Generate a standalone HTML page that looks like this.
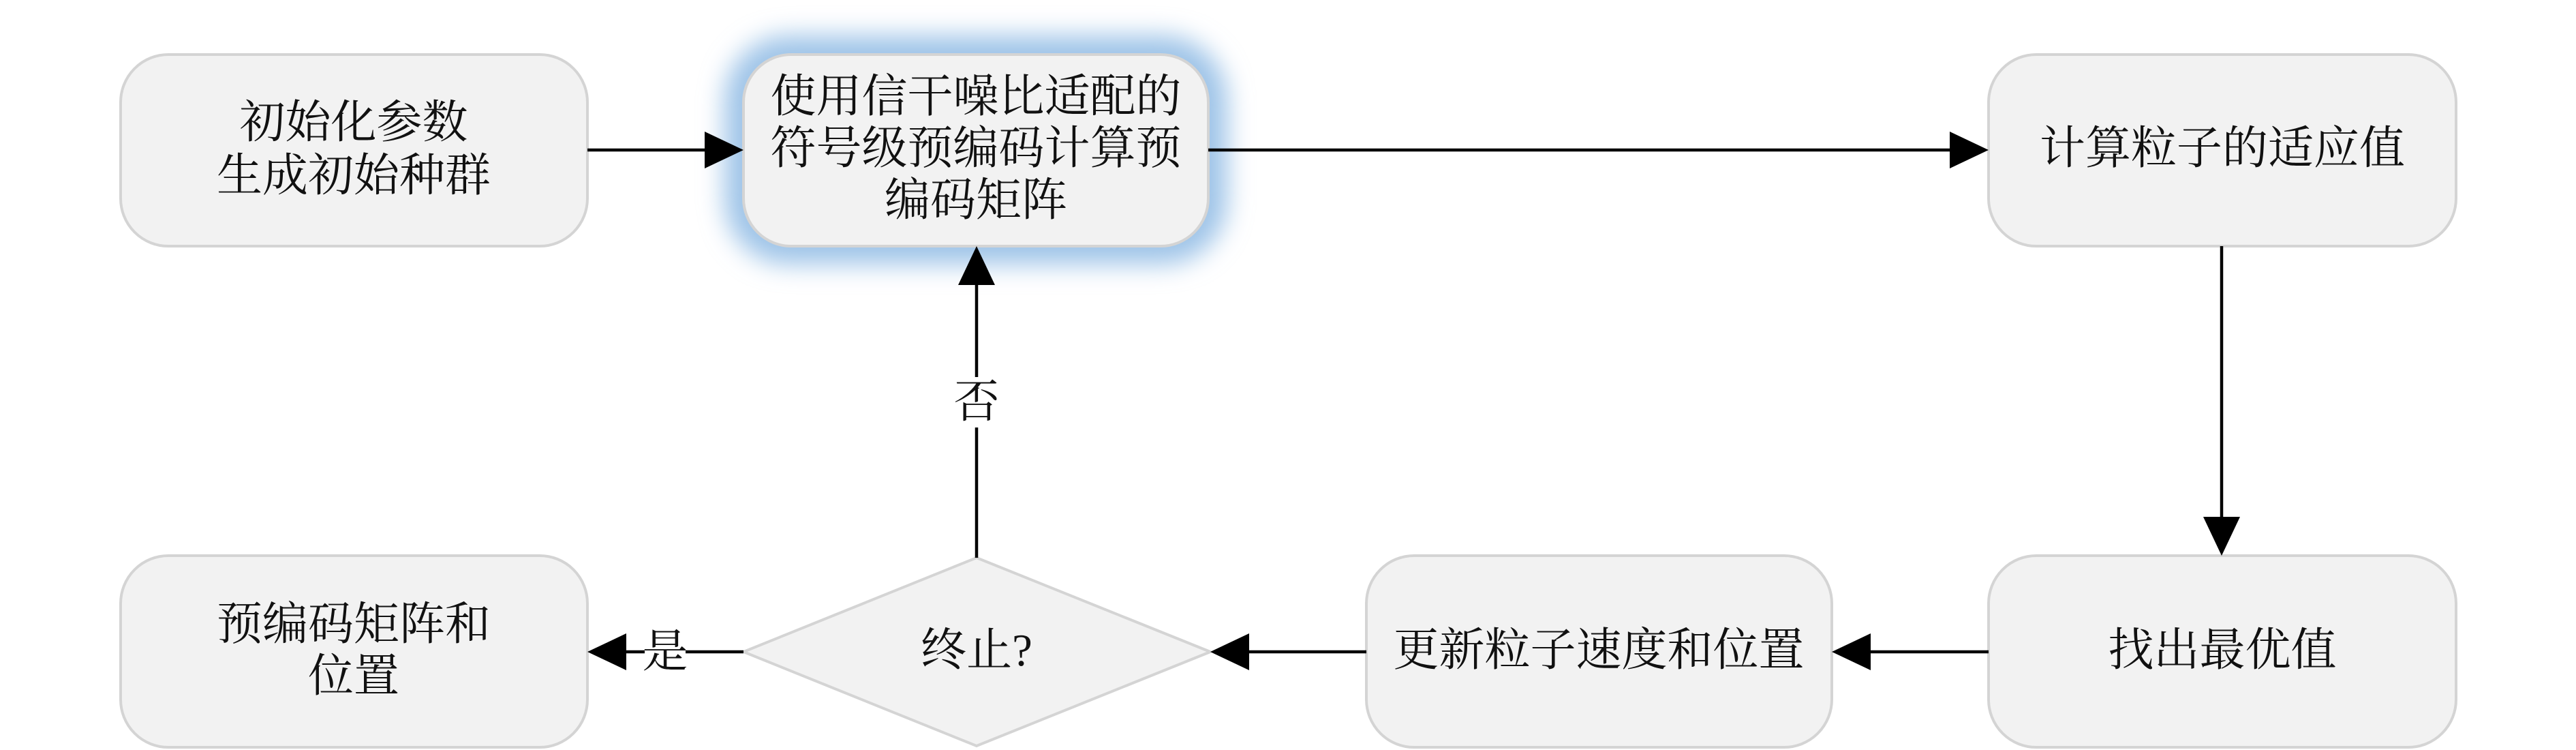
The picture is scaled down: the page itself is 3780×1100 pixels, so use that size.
<!DOCTYPE html>
<html><head><meta charset="utf-8"><style>
html,body{margin:0;padding:0;background:#fff;}
svg{display:block;}
text{font-family:"Liberation Serif","Noto Serif CJK SC",serif;font-size:67px;fill:#111;text-anchor:middle;dominant-baseline:central;}
</style></head><body>
<svg width="3780" height="1100" viewBox="0 0 3780 1100" xmlns="http://www.w3.org/2000/svg">
<defs>
<filter id="glow" x="-30%" y="-40%" width="160%" height="180%"><feGaussianBlur stdDeviation="18"/></filter>
</defs>
<g stroke="#d4d4d4" stroke-width="4" fill="#f2f2f2">
<rect x="1063" y="52" width="738" height="336" rx="95" fill="#9fc4e8" stroke="none" filter="url(#glow)"/>
<rect x="177" y="80" width="685" height="281" rx="70"/>
<rect x="1091" y="80" width="682" height="281" rx="70"/>
<rect x="2918" y="80" width="686" height="281" rx="70"/>
<rect x="2918" y="815" width="686" height="281" rx="70"/>
<rect x="2005" y="815" width="683" height="281" rx="70"/>
<rect x="177" y="815" width="685" height="281" rx="70"/>
<polygon points="1433,818 1776,956 1433,1094 1091,956"/>
</g>
<g stroke="#000" stroke-width="4.5" fill="none">
<line x1="862" y1="220" x2="1036" y2="220"/>
<line x1="1773" y1="220" x2="2862" y2="220"/>
<line x1="3260" y1="361" x2="3260" y2="760"/>
<line x1="2918" y1="956" x2="2744" y2="956"/>
<line x1="2005" y1="956" x2="1832" y2="956"/>
<line x1="1433" y1="818" x2="1433" y2="416"/>
<line x1="1091" y1="956" x2="917" y2="956"/>
</g>
<g fill="#000">
<polygon points="1091,220 1034,193 1034,247"/>
<polygon points="2918,220 2861,193 2861,247"/>
<polygon points="3260,815 3233,758 3287,758"/>
<polygon points="2688,956 2745,929 2745,983"/>
<polygon points="1776,956 1833,929 1833,983"/>
<polygon points="1433,361 1406,418 1460,418"/>
<polygon points="862,956 919,929 919,983"/>
</g>
<rect x="1403" y="553" width="60" height="74" fill="#fff"/>
<text x="1433" y="590">否</text>
<rect x="946" y="919" width="60" height="74" fill="#fff"/>
<text x="976" y="956">是</text>
<text x="519" y="180">初始化参数</text>
<text x="519" y="258">生成初始种群</text>
<text x="1432" y="142">使用信干噪比适配的</text>
<text x="1432" y="218">符号级预编码计算预</text>
<text x="1432" y="294">编码矩阵</text>
<text x="3261" y="218">计算粒子的适应值</text>
<text x="3261" y="954">找出最优值</text>
<text x="2346" y="954">更新粒子速度和位置</text>
<text x="1433" y="954">终止?</text>
<text x="519" y="916">预编码矩阵和</text>
<text x="519" y="992">位置</text>
</svg>
</body></html>
